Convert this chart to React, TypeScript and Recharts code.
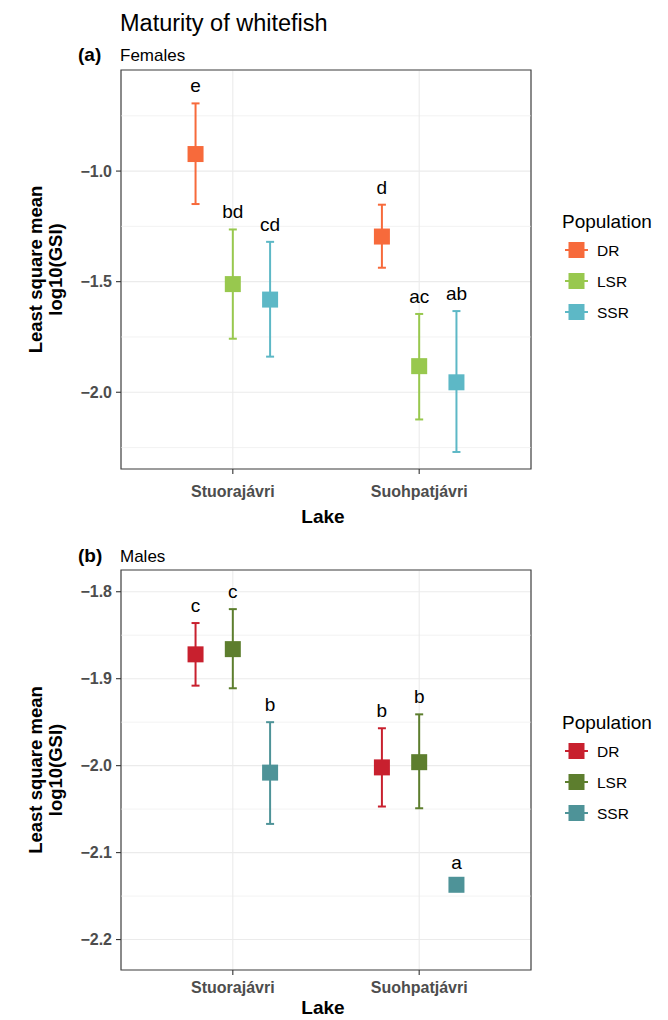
import React from 'react';
import {
  CartesianGrid,
  ErrorBar,
  ReferenceArea,
  ReferenceLine,
  Scatter,
  ScatterChart,
  XAxis,
  YAxis,
} from 'recharts';

const lakes = ['Stuorajávri', 'Suohpatjávri'];
const populations = ['DR', 'LSR', 'SSR'];

// rows follow populations (DR, LSR, SSR), columns follow lakes
const femaleMean = [[-0.923, -1.296], [-1.511, -1.882], [-1.581, -1.955]];
const femaleLower = [[-1.149, -1.437], [-1.758, -2.123], [-1.839, -2.27]];
const femaleUpper = [[-0.694, -1.152], [-1.264, -1.646], [-1.32, -1.633]];
const femaleLetters = [['e', 'd'], ['bd', 'ac'], ['cd', 'ab']];
const femaleColors = ['#F76A3B', '#98C84E', '#5DB8C6'];
const femaleTicks = [-2.0, -1.5, -1.0];
const femaleMinor = [-2.25, -1.75, -1.25, -0.75];

const maleMean = [[-1.872, -2.002], [-1.866, -1.996], [-2.008, -2.137]];
const maleLower = [[-1.908, -2.047], [-1.911, -2.049], [-2.067, -2.142]];
const maleUpper = [[-1.836, -1.957], [-1.82, -1.941], [-1.95, -2.132]];
const maleLetters = [['c', 'b'], ['c', 'b'], ['b', 'a']];
const maleColors = ['#C8202E', '#5D7E2E', '#4E9398'];
const maleTicks = [-2.2, -2.1, -2.0, -1.9, -1.8];
const maleMinor = [-2.15, -2.05, -1.95, -1.85];

const dodge = [-0.2, 0, 0.2];
const FONT = '"Liberation Sans", Arial, sans-serif';
const GRID = '#EBEBEB';

const fmt = (v: number) => v.toFixed(1).replace('-', '\u2212');

function Panel(props: any) {
  const { mean, lower, upper, letters, colors, ticks, minor, domain, height, margin, tickMargin } = props;

  const series = populations.map((_, p) =>
    lakes.map((_, i) => ({
      x: i + 1 + dodge[p],
      y: mean[p][i],
      err: [mean[p][i] - lower[p][i], upper[p][i] - mean[p][i]],
    }))
  );
  const labels = populations.flatMap((_, p) =>
    lakes.map((_, i) => ({ x: i + 1 + dodge[p], y: upper[p][i], letter: letters[p][i] }))
  );

  return (
    <ScatterChart width={653} height={height} margin={margin}>
      <CartesianGrid stroke={GRID} strokeWidth={1.1} />
      {minor.map((v: number) => (
        <ReferenceLine key={v} y={v} stroke={GRID} strokeWidth={0.6} />
      ))}
      <XAxis
        dataKey='x'
        type='number'
        domain={[0.4, 2.6]}
        ticks={[1, 2]}
        interval={0}
        allowDataOverflow
        tickFormatter={(v) => lakes[v - 1]}
        height={40}
        axisLine={false}
        tickSize={5}
        tickMargin={tickMargin}
        tickLine={{ stroke: '#333', strokeWidth: 1.1 }}
        tick={{ fontSize: 16, fontWeight: 'bold', fill: '#4D4D4D' }}
      />
      <YAxis
        dataKey='y'
        type='number'
        domain={domain}
        ticks={ticks}
        interval={0}
        allowDataOverflow
        tickFormatter={fmt}
        width={121}
        axisLine={false}
        tickSize={5}
        tickMargin={4}
        tickLine={{ stroke: '#333', strokeWidth: 1.1 }}
        tick={{ fontSize: 16, fontWeight: 'bold', fill: '#4D4D4D' }}
      />
      <ReferenceArea
        x1={0.4}
        x2={2.6}
        y1={domain[0]}
        y2={domain[1]}
        fill='none'
        stroke='#444'
        strokeWidth={1.2}
        fillOpacity={0}
      />
      {series.map((data, p) => (
        <Scatter
          key={populations[p]}
          data={data}
          isAnimationActive={false}
          shape={(s: any) => (
            <rect x={s.cx - 8} y={s.cy - 8} width={16} height={16} fill={colors[p]} />
          )}
        >
          <ErrorBar dataKey='err' direction='y' width={4} stroke={colors[p]} strokeWidth={2} />
        </Scatter>
      ))}
      <Scatter
        data={labels}
        isAnimationActive={false}
        shape={(s: any) => (
          <text x={s.cx} y={s.cy - 11} textAnchor='middle' fontSize={19} fill='#000'>
            {s.payload.letter}
          </text>
        )}
      />
    </ScatterChart>
  );
}

function Legend({ top, colors }: { top: number; colors: string[] }) {
  return (
    <g>
      <text x={562} y={top} fontSize={19} fill='#000'>Population</text>
      {populations.map((p, i) => {
        const cy = top + 22 + i * 31;
        return (
          <g key={p}>
            <line x1={565} x2={588} y1={cy} y2={cy} stroke={colors[i]} strokeWidth={2} />
            <rect x={568.5} y={cy - 8} width={16} height={16} fill={colors[i]} />
            <text x={597} y={cy + 5.5} fontSize={15.5} fill='#000'>{p}</text>
          </g>
        );
      })}
    </g>
  );
}

function YTitle({ cy }: { cy: number }) {
  return (
    <g fontWeight='bold' fontSize={18.5} fill='#000'>
      <text transform={`translate(42,${cy}) rotate(-90)`} textAnchor='middle'>Least square mean</text>
      <text transform={`translate(62,${cy}) rotate(-90)`} textAnchor='middle'>log10(GSI)</text>
    </g>
  );
}

export default function App() {
  return (
    <div style={{ position: 'absolute', left: 0, top: 0, width: 668, height: 1020, background: '#fff', fontFamily: FONT }}>
      <div style={{ position: 'absolute', left: 0, top: 0, width: 653, height: 1020, overflow: 'hidden' }}>
        <div style={{ position: 'absolute', left: 0, top: 0 }}>
          <Panel
            mean={femaleMean}
            lower={femaleLower}
            upper={femaleUpper}
            letters={femaleLetters}
            colors={femaleColors}
            ticks={femaleTicks}
            minor={femaleMinor}
            domain={[-2.347, -0.543]}
            height={510}
            margin={{ top: 70, right: 122, bottom: 1, left: 0 }}
            tickMargin={12}
          />
        </div>
        <div style={{ position: 'absolute', left: 0, top: 510 }}>
          <Panel
            mean={maleMean}
            lower={maleLower}
            upper={maleUpper}
            letters={maleLetters}
            colors={maleColors}
            ticks={maleTicks}
            minor={maleMinor}
            domain={[-2.235, -1.775]}
            height={510}
            margin={{ top: 60, right: 122, bottom: 10, left: 0 }}
            tickMargin={7}
          />
        </div>
        <svg
          width={653}
          height={1020}
          style={{ position: 'absolute', left: 0, top: 0, pointerEvents: 'none' }}
          fontFamily={FONT}
        >
          <text x={120} y={31} fontSize={23.5} fill='#000'>Maturity of whitefish</text>
          <text x={78} y={61} fontSize={19} fontWeight='bold' fill='#000'>(a)</text>
          <text x={120} y={61} fontSize={17} fill='#000'>Females</text>
          <YTitle cy={269.5} />
          <text x={323} y={523} fontSize={19} fontWeight='bold' textAnchor='middle' fill='#000'>Lake</text>
          <Legend top={228} colors={femaleColors} />

          <text x={78} y={562} fontSize={19} fontWeight='bold' fill='#000'>(b)</text>
          <text x={120} y={562} fontSize={17} fill='#000'>Males</text>
          <YTitle cy={770} />
          <text x={323} y={1014} fontSize={19} fontWeight='bold' textAnchor='middle' fill='#000'>Lake</text>
          <Legend top={729} colors={maleColors} />
        </svg>
      </div>
    </div>
  );
}
